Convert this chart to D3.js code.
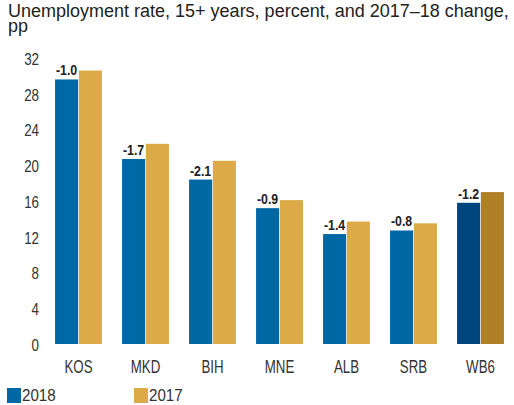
<!DOCTYPE html>
<html>
<head>
<meta charset="utf-8">
<script src="https://cdn.jsdelivr.net/npm/d3@7"></script>
<style>
  html, body { margin: 0; padding: 0; background: #fff; }
  svg { display: block; }
  text { font-family: "Liberation Sans", Arial, sans-serif; }
</style>
</head>
<body>
<svg id="chart" width="514" height="405"></svg>
<script>
// Unemployment rate by economy, 2018 vs 2017
const categories = ["KOS", "MKD", "BIH", "MNE", "ALB", "SRB", "WB6"];
const years = ["2018", "2017"];
const values2018 = [29.6, 20.7, 18.4, 15.2, 12.3, 12.7, 15.8];
const values2017 = [30.6, 22.4, 20.5, 16.1, 13.7, 13.5, 17.0];
const changeLabels = ["-1.0", "-1.7", "-2.1", "-0.9", "-1.4", "-0.8", "-1.2"];
const yTicks = [0, 4, 8, 12, 16, 20, 24, 28, 32];
const titleLines = ["Unemployment rate, 15+ years, percent, and 2017\u201318 change,", "pp"];

const colors = { "2018": "#0068a5", "2017": "#dcaa47" };
const aggColors = { "2018": "#00467e", "2017": "#b08027" };

const svg = d3.select("#chart");

// Title, two lines
svg.append("g").selectAll("text")
  .data(titleLines).join("text")
  .attr("x", 8)
  .attr("y", (d, i) => 17 + i * 15)
  .attr("font-size", 18)
  .attr("fill", "#222")
  .text(d => d);

const x = d3.scaleBand().domain(categories).range([45, 514]).paddingInner(0.3).paddingOuter(0.15);
const xSub = d3.scaleBand().domain(years).range([0, x.bandwidth()]).paddingInner(0.03);
const y = d3.scaleLinear().domain([0, 32]).range([344, 58]);

// Y axis: labels only, condensed
const yAxis = d3.axisLeft(y).tickValues(yTicks).tickSize(0).tickPadding(0);
const yg = svg.append("g").attr("transform", "translate(39,0)").call(yAxis);
yg.select(".domain").remove();
yg.attr("font-family", null);
yg.selectAll("text")
  .attr("font-size", 16.5)
  .attr("dy", "0.38em")
  .attr("fill", "#333")
  .attr("transform", "scale(0.81,1)");

// X axis: labels only, condensed
const xAxis = d3.axisBottom(x).tickSize(0).tickPadding(0);
const xg = svg.append("g").attr("transform", "translate(0,360)").call(xAxis);
xg.select(".domain").remove();
xg.attr("font-family", null);
xg.selectAll("text")
  .attr("font-size", 17.5)
  .attr("y", 12.5)
  .attr("dy", 0)
  .attr("fill", "#333")
  .attr("transform", "scale(0.76,1)");

const rows = categories.map((c, i) => ({ cat: c, i, "2018": values2018[i], "2017": values2017[i] }));

const groups = svg.append("g").selectAll("g")
  .data(rows).join("g")
  .attr("transform", d => `translate(${x(d.cat)},0)`);

groups.selectAll("rect")
  .data(d => years.map(yr => ({ yr, v: d[yr], agg: d.cat === "WB6" })))
  .join("rect")
  .attr("x", d => xSub(d.yr))
  .attr("width", xSub.bandwidth())
  .attr("y", d => y(d.v))
  .attr("height", d => y(0) - y(d.v))
  .attr("fill", d => (d.agg ? aggColors : colors)[d.yr]);

// Change labels above 2018 bars
groups.append("g")
  .attr("transform", d => `translate(${xSub("2018") + xSub.bandwidth() / 2},${y(d["2018"]) - 4})`)
  .append("text")
  .attr("text-anchor", "middle")
  .attr("font-size", 14.5)
  .attr("font-weight", "bold")
  .attr("fill", "#222")
  .attr("transform", "scale(0.85,1)")
  .text(d => changeLabels[d.i]);

// Legend
const legend = svg.append("g").attr("transform", "translate(7,388)");
const items = legend.selectAll("g").data(years).join("g")
  .attr("transform", (d, i) => `translate(${i * 127},0)`);
items.append("rect").attr("width", 14).attr("height", 15).attr("fill", d => colors[d]);
items.append("g").attr("transform", "translate(15,12.5)")
  .append("text")
  .attr("font-size", 16.3)
  .attr("fill", "#333")
  .attr("transform", "scale(0.93,1)")
  .text(d => d);
</script>
</body>
</html>
